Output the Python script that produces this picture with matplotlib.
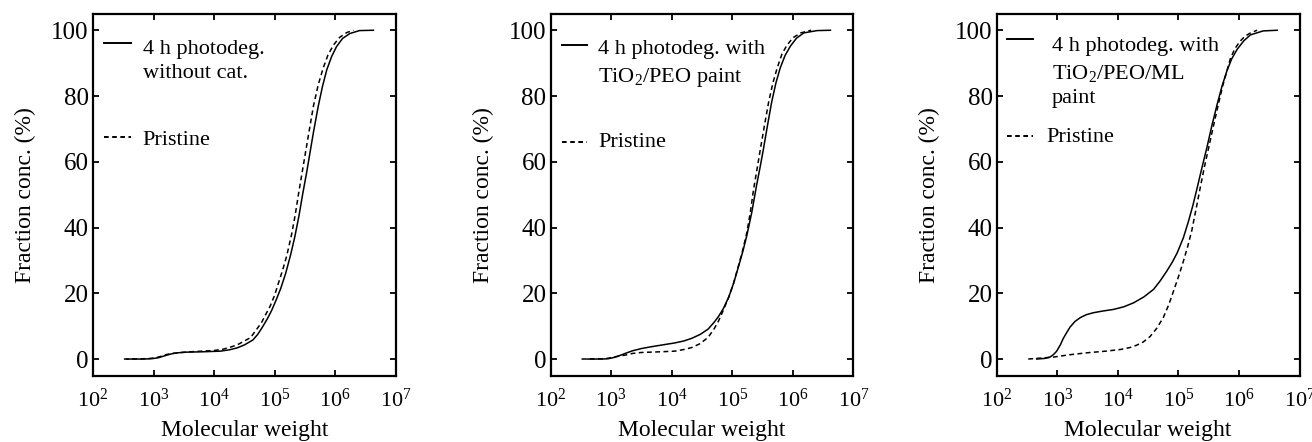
import numpy as np
import matplotlib
matplotlib.use("Agg")
import matplotlib.pyplot as plt
from matplotlib.ticker import FixedLocator, NullLocator, LogFormatterSciNotation

plt.rcParams['font.family'] = ['Liberation Serif', 'DejaVu Serif']
plt.rcParams['mathtext.fontset'] = 'custom'
plt.rcParams['mathtext.rm'] = 'Liberation Serif'
plt.rcParams['mathtext.default'] = 'regular'

# -----------------------------
# Data (log10 of molecular weight, fraction conc. in %)
# -----------------------------
# panel 1: 4 h photodeg. without cat.
p1_treated_logmw = [2.56, 2.80, 2.92, 2.99, 3.08, 3.15, 3.22, 3.30, 3.40, 3.55, 3.80, 4.10,
                    4.25, 4.38, 4.50, 4.64, 4.72, 4.80, 4.88, 4.95, 5.02, 5.10, 5.18, 5.26,
                    5.33, 5.40, 5.47, 5.53, 5.58, 5.64, 5.72, 5.79, 5.86, 5.94, 6.02, 6.12,
                    6.24, 6.40, 6.63]
p1_treated_conc = [0.0, 0.0, 0.05, 0.15, 0.4, 0.8, 1.2, 1.6, 1.9, 2.1, 2.2, 2.4,
                   2.8, 3.4, 4.3, 5.8, 7.5, 9.8, 12.3, 14.8, 17.8, 21.5, 26.0, 31.5,
                   37.0, 43.5, 51.0, 57.0, 62.5, 69.0, 77.0, 83.0, 88.0, 92.0, 95.0, 97.5,
                   99.0, 99.9, 100.0]
p1_pristine_logmw = [2.51, 2.80, 2.92, 3.00, 3.08, 3.15, 3.22, 3.30, 3.45, 3.60, 4.00, 4.15,
                     4.30, 4.40, 4.50, 4.60, 4.70, 4.78, 4.85, 4.93, 5.00, 5.06, 5.13, 5.20,
                     5.28, 5.34, 5.40, 5.46, 5.51, 5.57, 5.64, 5.72, 5.80, 5.88, 5.97, 6.07,
                     6.19, 6.30]
p1_pristine_conc = [0.0, 0.05, 0.15, 0.3, 0.6, 1.0, 1.4, 1.7, 2.0, 2.2, 2.6, 3.0,
                    3.8, 4.5, 5.5, 6.5, 9.0, 11.0, 13.5, 16.3, 19.5, 23.0, 27.0, 31.5,
                    38.0, 44.0, 51.0, 57.5, 63.0, 69.5, 77.0, 83.5, 88.5, 92.5, 95.5, 97.8,
                    99.3, 100.0]

# panel 2: 4 h photodeg. with TiO2/PEO paint
p2_treated_logmw = [2.60, 2.85, 2.95, 3.03, 3.10, 3.16, 3.23, 3.35, 3.50, 3.65, 3.78, 4.05,
                    4.20, 4.33, 4.47, 4.60, 4.70, 4.77, 4.85, 4.94, 5.02, 5.10, 5.17, 5.24,
                    5.32, 5.40, 5.46, 5.51, 5.58, 5.65, 5.72, 5.79, 5.87, 5.96, 6.06, 6.18,
                    6.40, 6.62]
p2_treated_conc = [0.0, 0.0, 0.1, 0.4, 0.8, 1.2, 1.7, 2.5, 3.2, 3.7, 4.1, 4.9,
                   5.5, 6.3, 7.5, 9.1, 11.2, 12.9, 15.3, 18.8, 23.0, 28.0, 32.5, 37.6,
                   44.5, 52.8, 58.5, 63.5, 71.0, 78.2, 84.0, 88.5, 92.3, 95.2, 97.6, 99.2,
                   99.9, 100.0]
p2_pristine_logmw = [2.51, 2.90, 3.00, 3.10, 3.23, 3.35, 3.50, 3.80, 4.05, 4.20, 4.33, 4.47,
                     4.60, 4.70, 4.77, 4.85, 4.94, 5.02, 5.10, 5.17, 5.24, 5.30, 5.35, 5.41,
                     5.46, 5.53, 5.60, 5.67, 5.74, 5.82, 5.90, 6.00, 6.13, 6.30]
p2_pristine_conc = [0.0, 0.1, 0.4, 0.8, 1.2, 1.7, 2.0, 2.2, 2.4, 2.9, 3.5, 4.7,
                    6.6, 9.2, 11.5, 14.8, 18.8, 23.0, 28.3, 33.0, 38.5, 45.0, 51.5, 58.0,
                    63.5, 71.0, 78.2, 84.0, 88.5, 92.8, 95.4, 97.7, 99.2, 100.0]

# panel 3: 4 h photodeg. with TiO2/PEO/ML paint
p3_treated_logmw = [2.66, 2.80, 2.88, 2.94, 2.99, 3.05, 3.10, 3.16, 3.21, 3.29, 3.38, 3.48,
                    3.60, 3.75, 3.93, 4.10, 4.26, 4.43, 4.59, 4.70, 4.81, 4.90, 4.98, 5.08,
                    5.16, 5.24, 5.31, 5.39, 5.47, 5.55, 5.64, 5.72, 5.80, 5.88, 5.97, 6.08,
                    6.19, 6.40, 6.63]
p3_treated_conc = [0.0, 0.2, 0.6, 1.4, 2.4, 4.3, 6.3, 8.2, 9.7, 11.4, 12.6, 13.5,
                   14.1, 14.6, 15.1, 15.9, 17.1, 18.9, 21.2, 23.8, 26.8, 29.5, 32.3, 36.8,
                   41.5, 46.8, 52.1, 58.3, 64.3, 70.8, 77.5, 83.0, 87.6, 91.3, 94.2, 96.8,
                   98.6, 99.8, 100.0]
p3_pristine_logmw = [2.52, 2.94, 3.20, 3.49, 3.80, 4.04, 4.20, 4.31, 4.42, 4.53, 4.64, 4.75,
                     4.84, 4.92, 5.00, 5.07, 5.15, 5.22, 5.29, 5.36, 5.43, 5.50, 5.58, 5.66,
                     5.73, 5.80, 5.86, 5.93, 6.01, 6.10, 6.20, 6.30]
p3_pristine_conc = [0.0, 0.6, 1.3, 1.9, 2.4, 2.9, 3.5, 4.2, 5.2, 6.8, 9.3, 12.6,
                    16.5, 20.7, 25.0, 29.0, 34.0, 39.0, 45.5, 52.1, 58.5, 64.3, 71.0, 77.5,
                    83.0, 87.6, 91.5, 94.3, 96.5, 98.2, 99.3, 100.0]

treated_labels = ["4 h photodeg.\nwithout cat.",
                  "4 h photodeg. with\nTiO$_2$/PEO paint",
                  "4 h photodeg. with\nTiO$_2$/PEO/ML\npaint"]
pristine_label = "Pristine"

x_ticks = [1e2, 1e3, 1e4, 1e5, 1e6, 1e7]
y_ticks = [0, 20, 40, 60, 80, 100]

panels = [
    (p1_treated_logmw, p1_treated_conc, p1_pristine_logmw, p1_pristine_conc),
    (p2_treated_logmw, p2_treated_conc, p2_pristine_logmw, p2_pristine_conc),
    (p3_treated_logmw, p3_treated_conc, p3_pristine_logmw, p3_pristine_conc),
]

# -----------------------------
# Layout (axes rects and legend placement, axes fractions)
# -----------------------------
axes_left = [0.0709, 0.4197, 0.7597]
axes_bottom = 0.149
axes_w = 0.2308
axes_h = 0.819

# (handle x0, x1, solid y, text x, last-line baseline y, dashed y, pristine x, pristine baseline y)
legend_pos = [
    (0.036, 0.125, 0.921, 0.164, 0.823, 0.661, 0.164, 0.638),
    (0.036, 0.119, 0.915, 0.157, 0.813, 0.648, 0.157, 0.634),
    (0.033, 0.121, 0.930, 0.182, 0.754, 0.662, 0.165, 0.648),
]

LW = 1.1
DASH = (3.2, 2.2)
FS = 16

fig = plt.figure(figsize=(13.12, 4.42), dpi=100)

for i, (t_x, t_y, p_x, p_y) in enumerate(panels):
    ax = fig.add_axes([axes_left[i], axes_bottom, axes_w, axes_h])

    ax.plot(10 ** np.array(p_x), p_y, color='black', lw=LW, dashes=DASH)
    ax.plot(10 ** np.array(t_x), t_y, color='black', lw=LW)

    ax.set_xscale('log')
    ax.set_xlim(1e2, 1e7)
    ax.set_ylim(-5.2, 104.9)
    ax.xaxis.set_major_locator(FixedLocator(x_ticks))
    ax.xaxis.set_major_formatter(LogFormatterSciNotation())
    ax.xaxis.set_minor_locator(NullLocator())
    ax.set_yticks(y_ticks)

    ax.tick_params(direction='in', top=True, right=True, length=4, width=1.3,
                   color='black')
    ax.tick_params(axis='x', pad=9, labelsize=16)
    ax.tick_params(axis='y', pad=3, labelsize=18)
    for sp in ax.spines.values():
        sp.set_linewidth(1.6)

    ax.set_xlabel("Molecular weight", fontsize=17, labelpad=6)
    ax.set_ylabel("Fraction conc. (%)", fontsize=17, labelpad=11)

    # legend drawn by hand so the handle sits on the first text line
    hx0, hx1, sy, tx, ty, dy, px, py = legend_pos[i]
    ax.plot([hx0, hx1], [sy, sy], transform=ax.transAxes, color='black', lw=1.4)
    ax.plot([hx0, hx1], [dy, dy], transform=ax.transAxes, color='black', lw=1.4,
            dashes=(2.4, 1.8))
    ax.text(tx, ty, treated_labels[i], transform=ax.transAxes, fontsize=FS,
            va='baseline', ha='left', linespacing=1.4)
    ax.text(px, py, pristine_label, transform=ax.transAxes, fontsize=FS,
            va='baseline', ha='left')

fig.savefig("out.png", dpi=100)
